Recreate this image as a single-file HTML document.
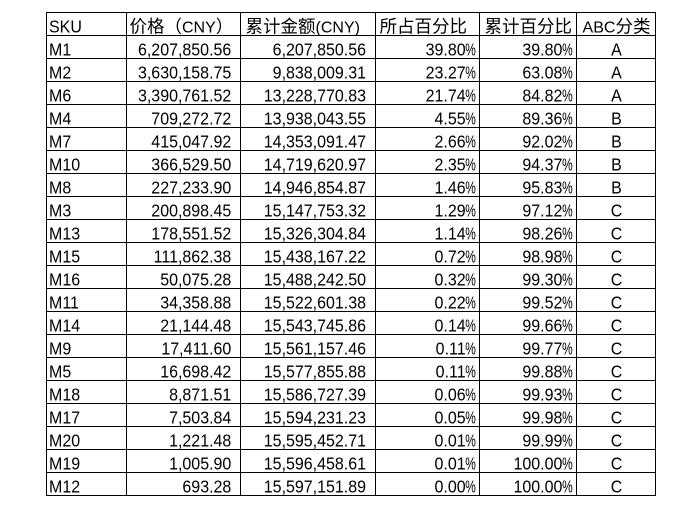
<!DOCTYPE html>
<html>
<head>
<meta charset="utf-8">
<style>
html,body{margin:0;padding:0;background:#fff;}
svg{display:block;}
text{font-family:"Liberation Sans","Noto Sans CJK SC",sans-serif;font-size:16px;fill:#000;}
.h{font-size:17.5px;}
.l{font-size:16px;}
.b text{font-size:17.5px;}
.e text{text-anchor:end;}
.m text{text-anchor:middle;}
.p text{font-size:17.5px;}
</style>
</head>
<body>
<svg width="700" height="522" viewBox="0 0 700 522" xmlns="http://www.w3.org/2000/svg">
<rect x="0" y="0" width="700" height="522" fill="#fff"/>
<g stroke="#000" stroke-width="1" shape-rendering="crispEdges" fill="none">
<path d="M46 12.5H656M46 35.5H656M46 58.5H656M46 81.5H656M46 104.5H656M46 127.5H656M46 150.5H656M46 173.5H656M46 196.5H656M46 219.5H656M46 242.5H656M46 265.5H656M46 288.5H656M46 311.5H656M46 334.5H656M46 357.5H656M46 380.5H656M46 403.5H656M46 426.5H656M46 449.5H656M46 472.5H656M46 495.5H656"/>
<path d="M46.5 12V496M126.5 12V496M240.5 12V496M375.5 12V496M479.5 12V496M576.5 12V496M655.5 12V496"/>
</g>

<!-- header -->
<g class="b" transform="translate(49 0) scale(0.914 1)"><text x="0" y="32.5">SKU</text></g>
<text x="129.5" y="32.5"><tspan class="h">价格（</tspan><tspan class="l">CNY</tspan><tspan class="h">）</tspan></text>
<text x="245.5" y="32.5"><tspan class="h">累计金额</tspan><tspan class="l">(CNY)</tspan></text>
<text x="379.5" y="32.5" class="h">所占百分比</text>
<text x="484.5" y="32.5" class="h">累计百分比</text>
<text x="616.5" y="32.5" text-anchor="middle"><tspan class="l">ABC</tspan><tspan class="h">分类</tspan></text>

<!-- SKU column -->
<g class="b" transform="translate(49 0) scale(0.914 1)">
<text x="0" y="55.5">M1</text>
<text x="0" y="78.5">M2</text>
<text x="0" y="101.5">M6</text>
<text x="0" y="124.5">M4</text>
<text x="0" y="147.5">M7</text>
<text x="0" y="170.5">M10</text>
<text x="0" y="193.5">M8</text>
<text x="0" y="216.5">M3</text>
<text x="0" y="239.5">M13</text>
<text x="0" y="262.5">M15</text>
<text x="0" y="285.5">M16</text>
<text x="0" y="308.5">M11</text>
<text x="0" y="331.5">M14</text>
<text x="0" y="354.5">M9</text>
<text x="0" y="377.5">M5</text>
<text x="0" y="400.5">M18</text>
<text x="0" y="423.5">M17</text>
<text x="0" y="446.5">M20</text>
<text x="0" y="469.5">M19</text>
<text x="0" y="492.5">M12</text>
</g>

<!-- price column -->
<g class="b e" transform="translate(231.3 0) scale(0.914 1)">
<text x="0" y="55.5">6,207,850.56</text>
<text x="0" y="78.5">3,630,158.75</text>
<text x="0" y="101.5">3,390,761.52</text>
<text x="0" y="124.5">709,272.72</text>
<text x="0" y="147.5">415,047.92</text>
<text x="0" y="170.5">366,529.50</text>
<text x="0" y="193.5">227,233.90</text>
<text x="0" y="216.5">200,898.45</text>
<text x="0" y="239.5">178,551.52</text>
<text x="0" y="262.5">111,862.38</text>
<text x="0" y="285.5">50,075.28</text>
<text x="0" y="308.5">34,358.88</text>
<text x="0" y="331.5">21,144.48</text>
<text x="0" y="354.5">17,411.60</text>
<text x="0" y="377.5">16,698.42</text>
<text x="0" y="400.5">8,871.51</text>
<text x="0" y="423.5">7,503.84</text>
<text x="0" y="446.5">1,221.48</text>
<text x="0" y="469.5">1,005.90</text>
<text x="0" y="492.5">693.28</text>
</g>

<!-- cumulative amount column -->
<g class="b e" transform="translate(366 0) scale(0.914 1)">
<text x="0" y="55.5">6,207,850.56</text>
<text x="0" y="78.5">9,838,009.31</text>
<text x="0" y="101.5">13,228,770.83</text>
<text x="0" y="124.5">13,938,043.55</text>
<text x="0" y="147.5">14,353,091.47</text>
<text x="0" y="170.5">14,719,620.97</text>
<text x="0" y="193.5">14,946,854.87</text>
<text x="0" y="216.5">15,147,753.32</text>
<text x="0" y="239.5">15,326,304.84</text>
<text x="0" y="262.5">15,438,167.22</text>
<text x="0" y="285.5">15,488,242.50</text>
<text x="0" y="308.5">15,522,601.38</text>
<text x="0" y="331.5">15,543,745.86</text>
<text x="0" y="354.5">15,561,157.46</text>
<text x="0" y="377.5">15,577,855.88</text>
<text x="0" y="400.5">15,586,727.39</text>
<text x="0" y="423.5">15,594,231.23</text>
<text x="0" y="446.5">15,595,452.71</text>
<text x="0" y="469.5">15,596,458.61</text>
<text x="0" y="492.5">15,597,151.89</text>
</g>

<!-- share percent column -->
<g class="b e" transform="translate(465.6 0) scale(0.914 1)">
<text x="0" y="55.5">39.80</text>
<text x="0" y="78.5">23.27</text>
<text x="0" y="101.5">21.74</text>
<text x="0" y="124.5">4.55</text>
<text x="0" y="147.5">2.66</text>
<text x="0" y="170.5">2.35</text>
<text x="0" y="193.5">1.46</text>
<text x="0" y="216.5">1.29</text>
<text x="0" y="239.5">1.14</text>
<text x="0" y="262.5">0.72</text>
<text x="0" y="285.5">0.32</text>
<text x="0" y="308.5">0.22</text>
<text x="0" y="331.5">0.14</text>
<text x="0" y="354.5">0.11</text>
<text x="0" y="377.5">0.11</text>
<text x="0" y="400.5">0.06</text>
<text x="0" y="423.5">0.05</text>
<text x="0" y="446.5">0.01</text>
<text x="0" y="469.5">0.01</text>
<text x="0" y="492.5">0.00</text>
</g>
<g class="p">
<text x="465.3" y="55.5" textLength="10.6" lengthAdjust="spacingAndGlyphs">%</text>
<text x="465.3" y="78.5" textLength="10.6" lengthAdjust="spacingAndGlyphs">%</text>
<text x="465.3" y="101.5" textLength="10.6" lengthAdjust="spacingAndGlyphs">%</text>
<text x="465.3" y="124.5" textLength="10.6" lengthAdjust="spacingAndGlyphs">%</text>
<text x="465.3" y="147.5" textLength="10.6" lengthAdjust="spacingAndGlyphs">%</text>
<text x="465.3" y="170.5" textLength="10.6" lengthAdjust="spacingAndGlyphs">%</text>
<text x="465.3" y="193.5" textLength="10.6" lengthAdjust="spacingAndGlyphs">%</text>
<text x="465.3" y="216.5" textLength="10.6" lengthAdjust="spacingAndGlyphs">%</text>
<text x="465.3" y="239.5" textLength="10.6" lengthAdjust="spacingAndGlyphs">%</text>
<text x="465.3" y="262.5" textLength="10.6" lengthAdjust="spacingAndGlyphs">%</text>
<text x="465.3" y="285.5" textLength="10.6" lengthAdjust="spacingAndGlyphs">%</text>
<text x="465.3" y="308.5" textLength="10.6" lengthAdjust="spacingAndGlyphs">%</text>
<text x="465.3" y="331.5" textLength="10.6" lengthAdjust="spacingAndGlyphs">%</text>
<text x="465.3" y="354.5" textLength="10.6" lengthAdjust="spacingAndGlyphs">%</text>
<text x="465.3" y="377.5" textLength="10.6" lengthAdjust="spacingAndGlyphs">%</text>
<text x="465.3" y="400.5" textLength="10.6" lengthAdjust="spacingAndGlyphs">%</text>
<text x="465.3" y="423.5" textLength="10.6" lengthAdjust="spacingAndGlyphs">%</text>
<text x="465.3" y="446.5" textLength="10.6" lengthAdjust="spacingAndGlyphs">%</text>
<text x="465.3" y="469.5" textLength="10.6" lengthAdjust="spacingAndGlyphs">%</text>
<text x="465.3" y="492.5" textLength="10.6" lengthAdjust="spacingAndGlyphs">%</text>
</g>

<!-- cumulative percent column -->
<g class="b e" transform="translate(562.4 0) scale(0.914 1)">
<text x="0" y="55.5">39.80</text>
<text x="0" y="78.5">63.08</text>
<text x="0" y="101.5">84.82</text>
<text x="0" y="124.5">89.36</text>
<text x="0" y="147.5">92.02</text>
<text x="0" y="170.5">94.37</text>
<text x="0" y="193.5">95.83</text>
<text x="0" y="216.5">97.12</text>
<text x="0" y="239.5">98.26</text>
<text x="0" y="262.5">98.98</text>
<text x="0" y="285.5">99.30</text>
<text x="0" y="308.5">99.52</text>
<text x="0" y="331.5">99.66</text>
<text x="0" y="354.5">99.77</text>
<text x="0" y="377.5">99.88</text>
<text x="0" y="400.5">99.93</text>
<text x="0" y="423.5">99.98</text>
<text x="0" y="446.5">99.99</text>
<text x="0" y="469.5">100.00</text>
<text x="0" y="492.5">100.00</text>
</g>
<g class="p">
<text x="562.1" y="55.5" textLength="10.6" lengthAdjust="spacingAndGlyphs">%</text>
<text x="562.1" y="78.5" textLength="10.6" lengthAdjust="spacingAndGlyphs">%</text>
<text x="562.1" y="101.5" textLength="10.6" lengthAdjust="spacingAndGlyphs">%</text>
<text x="562.1" y="124.5" textLength="10.6" lengthAdjust="spacingAndGlyphs">%</text>
<text x="562.1" y="147.5" textLength="10.6" lengthAdjust="spacingAndGlyphs">%</text>
<text x="562.1" y="170.5" textLength="10.6" lengthAdjust="spacingAndGlyphs">%</text>
<text x="562.1" y="193.5" textLength="10.6" lengthAdjust="spacingAndGlyphs">%</text>
<text x="562.1" y="216.5" textLength="10.6" lengthAdjust="spacingAndGlyphs">%</text>
<text x="562.1" y="239.5" textLength="10.6" lengthAdjust="spacingAndGlyphs">%</text>
<text x="562.1" y="262.5" textLength="10.6" lengthAdjust="spacingAndGlyphs">%</text>
<text x="562.1" y="285.5" textLength="10.6" lengthAdjust="spacingAndGlyphs">%</text>
<text x="562.1" y="308.5" textLength="10.6" lengthAdjust="spacingAndGlyphs">%</text>
<text x="562.1" y="331.5" textLength="10.6" lengthAdjust="spacingAndGlyphs">%</text>
<text x="562.1" y="354.5" textLength="10.6" lengthAdjust="spacingAndGlyphs">%</text>
<text x="562.1" y="377.5" textLength="10.6" lengthAdjust="spacingAndGlyphs">%</text>
<text x="562.1" y="400.5" textLength="10.6" lengthAdjust="spacingAndGlyphs">%</text>
<text x="562.1" y="423.5" textLength="10.6" lengthAdjust="spacingAndGlyphs">%</text>
<text x="562.1" y="446.5" textLength="10.6" lengthAdjust="spacingAndGlyphs">%</text>
<text x="562.1" y="469.5" textLength="10.6" lengthAdjust="spacingAndGlyphs">%</text>
<text x="562.1" y="492.5" textLength="10.6" lengthAdjust="spacingAndGlyphs">%</text>
</g>

<!-- ABC class column -->
<g class="b m" transform="translate(616.5 0) scale(0.914 1)">
<text x="0" y="55.5">A</text>
<text x="0" y="78.5">A</text>
<text x="0" y="101.5">A</text>
<text x="0" y="124.5">B</text>
<text x="0" y="147.5">B</text>
<text x="0" y="170.5">B</text>
<text x="0" y="193.5">B</text>
<text x="0" y="216.5">C</text>
<text x="0" y="239.5">C</text>
<text x="0" y="262.5">C</text>
<text x="0" y="285.5">C</text>
<text x="0" y="308.5">C</text>
<text x="0" y="331.5">C</text>
<text x="0" y="354.5">C</text>
<text x="0" y="377.5">C</text>
<text x="0" y="400.5">C</text>
<text x="0" y="423.5">C</text>
<text x="0" y="446.5">C</text>
<text x="0" y="469.5">C</text>
<text x="0" y="492.5">C</text>
</g>
</svg>
</body>
</html>
